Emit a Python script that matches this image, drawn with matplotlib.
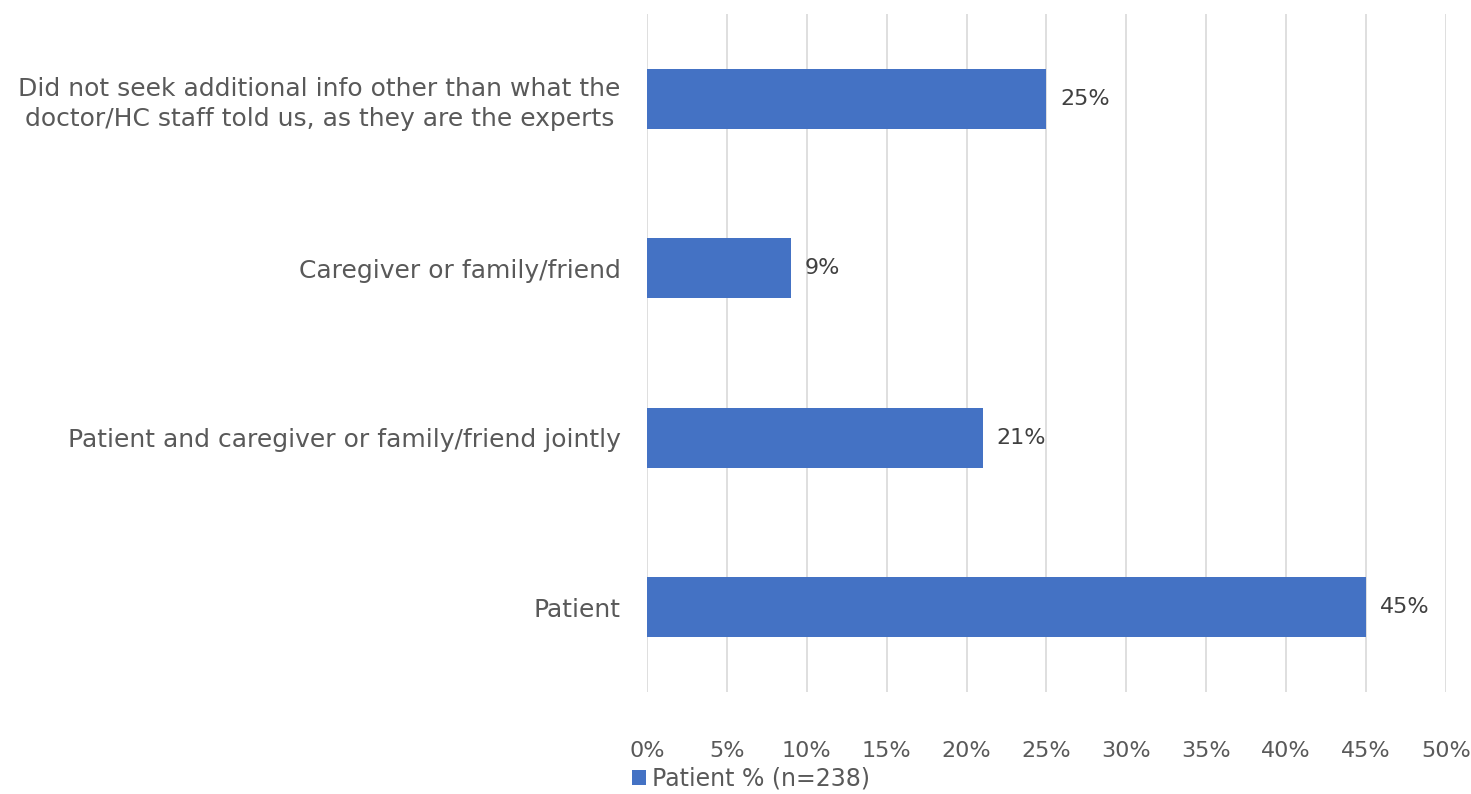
import matplotlib.pyplot as plt
from matplotlib.patches import Patch

categories = ["Patient",
              "Patient and caregiver or family/friend jointly",
              "Caregiver or family/friend",
              "Did not seek additional info other than what the\ndoctor/HC staff told us, as they are the experts"]
values = [45, 21, 9, 25]
xticks = [0, 5, 10, 15, 20, 25, 30, 35, 40, 45, 50]
series_name = "Patient % (n=238)"

bar_color = "#4472C4"
text_color = "#595959"

plt.rcParams['font.family'] = ['DejaVu Sans']

fig = plt.figure(figsize=(14.71, 7.94), dpi=100)
ax = fig.add_axes([0.4398, 0.1285, 0.5432, 0.8538])

ypos = range(len(categories))
ax.barh(ypos, values, height=0.354, color=bar_color, zorder=3)

# data labels
for y, v in zip(ypos, values):
    ax.annotate(f"{v}%", (v, y), xytext=(10, 0), textcoords="offset points",
                va="center", ha="left", fontsize=16, color="#404040")

ax.set_xlim(0, 50)
ax.set_ylim(-0.5, 3.5)
ax.set_xticks(xticks)
ax.set_xticklabels([f"{t}%" for t in xticks])
ax.set_yticks(list(ypos))
ax.set_yticklabels(categories, ha="right", multialignment="center",
                   fontsize=18, linespacing=1.3)

ax.grid(axis="x", color="#d9d9d9", linewidth=1.2, zorder=0)
for s in ax.spines.values():
    s.set_visible(False)
ax.tick_params(axis="both", length=0, labelcolor=text_color)
ax.tick_params(axis="x", pad=35, labelsize=16)
ax.tick_params(axis="y", pad=19)

handle = Patch(facecolor=bar_color, label=series_name)
fig.legend(handles=[handle], loc="center left", bbox_to_anchor=(0.415, 0.019),
           frameon=False, fontsize=17, labelcolor=text_color,
           handlelength=0.6, handleheight=0.6, handletextpad=0.25)

fig.savefig("out.png", dpi=100)
